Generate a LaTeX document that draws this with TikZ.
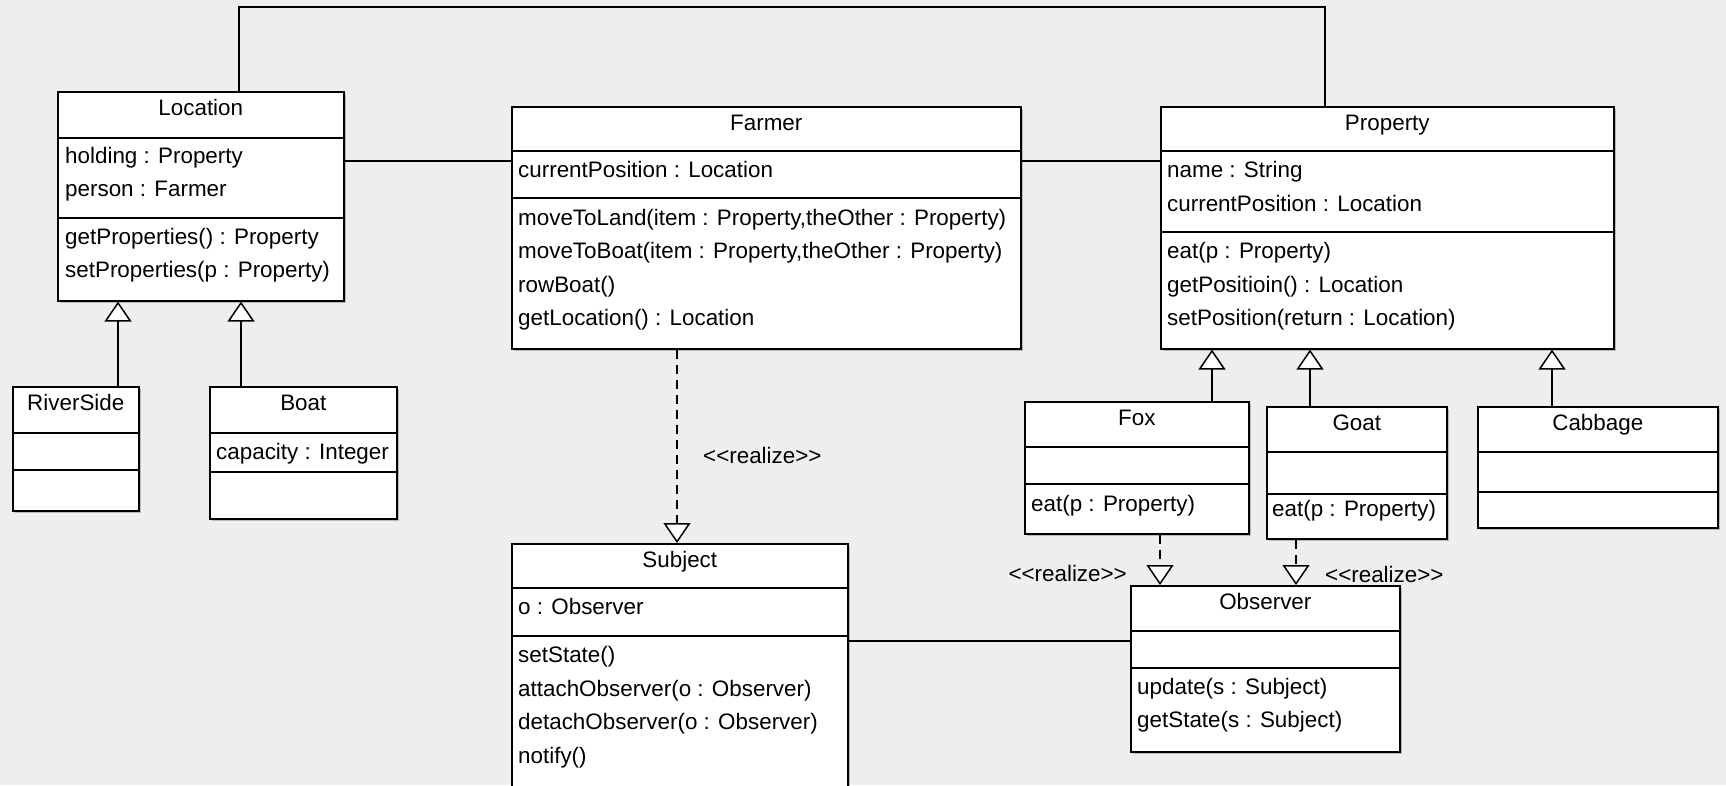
\documentclass[tikz,border=0pt]{standalone}
\usepackage{fontspec}
\setmainfont{Liberation Sans}
\usetikzlibrary{arrows.meta}
\definecolor{bg}{RGB}{238,238,238}
\definecolor{shd}{RGB}{185,185,185}
\tikzset{
  classbox/.style={draw=black, fill=white, line width=1.6pt, rectangle, inner sep=0pt, anchor=north west},
  divider/.style={line width=1.6pt},
  txt/.style={anchor=west, inner sep=0pt, text height=16pt, text depth=0pt, font=\fontsize{22.4}{26}\selectfont},
  ttl/.style={txt, anchor=center},
  assoc/.style={line width=1.5pt},
  gen/.style={line width=1.5pt, -{Triangle[length=20pt,width=27pt,fill=white,line width=1.5pt]}},
  real/.style={gen, dash pattern=on 9pt off 6pt},
}
\newcommand\umlclass[8]{%
  \fill[shd] (#2+3,#3+3) rectangle ++(#4,#5);
  \node[classbox, minimum width=#4pt, minimum height=#5pt] (#1) at (#2,#3) {};
  \draw[divider] (#1.west |- 0,#6) -- (#1.east |- 0,#6);
  \draw[divider] (#1.west |- 0,#7) -- (#1.east |- 0,#7);
  \node[ttl] (#1-t) at (#1.north) [yshift=-16pt] {#8};
}
\newcommand\rl{<\kern0pt<realize>\kern0pt>}
\begin{document}
\begin{tikzpicture}[x=1pt, y=-1pt]
\fill[bg] (0,0) rectangle (1726,785);
\useasboundingbox (0,0) rectangle (1726,785);

% classes
\umlclass{loc}{57}{91}{286}{209}{138}{218}{Location}
\node[txt] (loc-a1) at (65,155) {holding : Property};
\node[txt] (loc-a2) at (65,188) {person : Farmer};
\node[txt] (loc-o1) at (65,236) {getProperties() : Property};
\node[txt] (loc-o2) at (65,269) {setProperties(p : Property)};

\umlclass{rs}{12}{386}{126}{124}{433}{470}{RiverSide}

\umlclass{boat}{209}{386}{187}{132}{433}{472}{Boat}
\node[txt] (boat-a1) at (216,451) {capacity : Integer};

\umlclass{farmer}{511}{106}{509}{242}{151}{198}{Farmer}
\node[txt] (f-a1) at (518,169) {currentPosition : Location};
\node[txt] (f-o1) at (518,217) {moveToLand(item : Property,theOther : Property)};
\node[txt] (f-o2) at (518,250) {moveToBoat(item : Property,theOther : Property)};
\node[txt] (f-o3) at (518,284) {rowBoat()};
\node[txt] (f-o4) at (518,317) {getLocation() : Location};

\umlclass{prop}{1160}{106}{453}{242}{151}{232}{Property}
\node[txt] (p-a1) at (1167,169) {name : String};
\node[txt] (p-a2) at (1167,203) {currentPosition : Location};
\node[txt] (p-o1) at (1167,250) {eat(p : Property)};
\node[txt] (p-o2) at (1167,284) {getPositioin() : Location};
\node[txt] (p-o3) at (1167,317) {setPosition(return : Location)};

\umlclass{fox}{1024}{401}{224}{132}{447}{484}{Fox}
\node[txt] (fox-o1) at (1031,503) {eat(p : Property)};

\umlclass{goat}{1266}{406}{180}{132}{452}{494}{Goat}
\node[txt] (goat-o1) at (1272,508) {eat(p : Property)};

\umlclass{cab}{1477}{406}{240}{121}{452}{492}{Cabbage}

\umlclass{subj}{511}{543}{336}{262}{588}{636}{Subject}
\node[txt] (s-a1) at (518,606) {o : Observer};
\node[txt] (s-o1) at (518,654) {setState()};
\node[txt] (s-o2) at (518,688) {attachObserver(o : Observer)};
\node[txt] (s-o3) at (518,721) {detachObserver(o : Observer)};
\node[txt] (s-o4) at (518,755) {notify()};

\umlclass{obs}{1130}{585}{269}{166}{631}{668}{Observer}
\node[txt] (o-o1) at (1137,686) {update(s : Subject)};
\node[txt] (o-o2) at (1137,719) {getState(s : Subject)};

% associations
\draw[assoc] (loc.east |- 0,161) -- (farmer.west |- 0,161);
\draw[assoc] (farmer.east |- 0,161) -- (prop.west |- 0,161);
\draw[assoc] (subj.east |- 0,641) -- (obs.west |- 0,641);
\coordinate (topR) at (1325,7);
\draw[assoc] (loc.north -| 239,0) |- (topR) -- (prop.north -| topR);

% generalizations
\draw[gen] (rs.north -| 118,0) -- (loc.south -| 118,0);
\draw[gen] (boat.north -| 241,0) -- (loc.south -| 241,0);
\draw[gen] (fox.north -| 1212,0) -- (prop.south -| 1212,0);
\draw[gen] (goat.north -| 1310,0) -- (prop.south -| 1310,0);
\draw[gen] (cab.north -| 1552,0) -- (prop.south -| 1552,0);

% realizations
\draw[real] (farmer.south -| 677,0) -- (subj.north -| 677,0);
\draw[real] (fox.south -| 1160,0) -- (obs.north -| 1160,0);
\draw[real] (goat.south -| 1296,0) -- (obs.north -| 1296,0);
\node[txt] (lr1) at (703,455) {\rl};
\node[txt, anchor=east] (lr2) at (1127,573) {\rl};
\node[txt] (lr3) at (1325,574) {\rl};
\end{tikzpicture}
\end{document}
